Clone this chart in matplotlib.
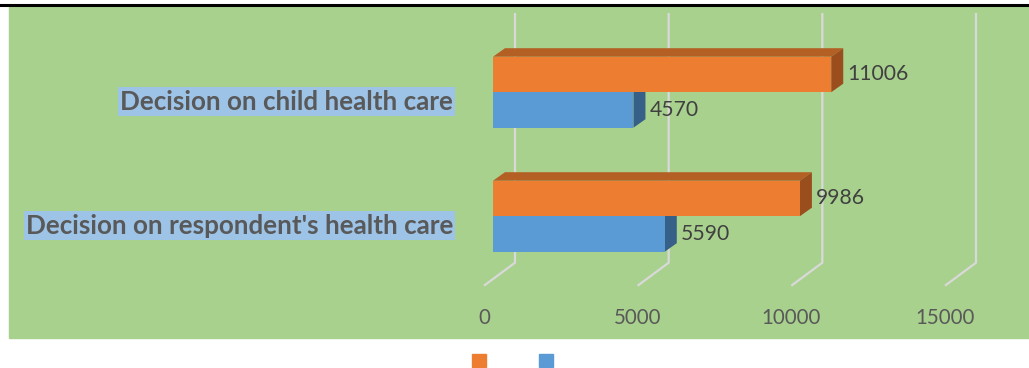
import matplotlib
matplotlib.use("Agg")
import matplotlib.pyplot as plt
from matplotlib.patches import Polygon, Rectangle
from matplotlib.lines import Line2D

# data
categories = ["Decision on respondent's health care", "Decision on child health care"]
orange_vals = [9986, 11006]
blue_vals = [5590, 4570]
tick_vals = [0, 5000, 10000, 15000]

W, H = 1029, 368
fig = plt.figure(figsize=(W / 100, H / 100), dpi=100)
ax = fig.add_axes([0, 0, 1, 1])
ax.set_axis_off()

# pixel -> data helpers (value axis runs left to right, categories bottom to top)
KX = 15000 / 461
KY = 1 / 124
X0 = 484      # front-plane zero
Y0 = 225.5    # centre of category 0
ax.set_xlim(-X0 * KX, (W - X0) * KX)
ax.set_ylim((Y0 - H) * KY, Y0 * KY)

def ypx(p):
    return (Y0 - p) * KY

# background
fig.add_artist(Rectangle((9 / W, 1 - 338 / H), (W - 9) / W, (338 - 7) / H,
                         transform=fig.transFigure, color="#A9D18E", zorder=0))
fig.add_artist(Line2D([0, 1], [1 - 5 / H, 1 - 5 / H], transform=fig.transFigure,
                      color="black", lw=2.2, zorder=5))

# floor/back gridlines
DX, DY = 31 * KX, 23 * KY
floor_y = ypx(285.7)
top_y = ypx(13)
for v in tick_vals:
    ax.plot([v, v + DX, v + DX], [floor_y, floor_y + DY, top_y],
            color="#D9D9D9", lw=1.6, zorder=1, solid_capstyle="butt")
    ax.text(v, ypx(318), f"{v}", ha="center", va="center", fontsize=14.8,
            family="Lato", color="#595959")

# 3d bars
BX0 = 9 * KX
LIFT = 9.3 * KY
THICK = 35.5 * KY
BDX, BDY = 12 * KX, 8.5 * KY

def bar3d(v, yb, front, top, side, z):
    yt = yb + THICK
    x1 = BX0 + v
    ax.add_patch(Polygon([(BX0, yt), (x1, yt), (x1 + BDX, yt + BDY), (BX0 + BDX, yt + BDY)],
                         closed=True, facecolor=top, edgecolor="none", zorder=z))
    ax.add_patch(Polygon([(x1, yb), (x1 + BDX, yb + BDY), (x1 + BDX, yt + BDY), (x1, yt)],
                         closed=True, facecolor=side, edgecolor="none", zorder=z))
    ax.add_patch(Polygon([(BX0, yb), (x1, yb), (x1, yt), (BX0, yt)],
                         closed=True, facecolor=front, edgecolor="none", zorder=z))
    ax.text(x1 + BDX + 4 * KX, yb + THICK / 2, f"{v}", ha="left", va="center",
            fontsize=15.2, family="Lato", color="#404040", zorder=z + 1)

for i, cat in enumerate(categories):
    base = i + LIFT
    bar3d(blue_vals[i], base - THICK, "#5B9BD5", "#41719C", "#376088", 2 + i * 3)
    bar3d(orange_vals[i], base, "#ED7D31", "#B45F24", "#9A4E1D", 3 + i * 3)
    ax.text((453 - X0) * KX, i, cat, ha="right", va="center", fontsize=18.7,
            family="Lato", fontweight="bold", color="#595959",
            bbox=dict(boxstyle="square,pad=0.08", facecolor="#9DC3E6", edgecolor="none"))

# legend (markers only)
handles = [Rectangle((0, 0), 1, 1, color="#ED7D31"), Rectangle((0, 0), 1, 1, color="#5B9BD5")]
fig.legend(handles, ["", ""], loc="center", bbox_to_anchor=(512.5 / W, 1 - 361 / H),
           ncol=2, frameon=False, fontsize=10.1, handlelength=1, handleheight=1,
           handletextpad=0, columnspacing=3.8, borderpad=0, borderaxespad=0)

fig.savefig("out.png", dpi=100)
